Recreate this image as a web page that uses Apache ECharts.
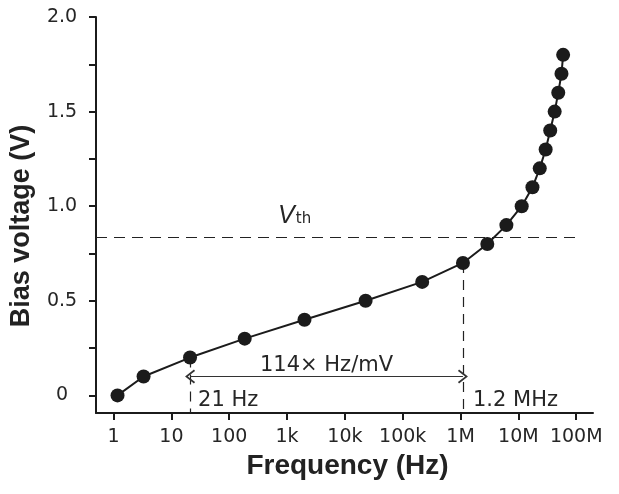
<!DOCTYPE html>
<html>
<head>
<meta charset="utf-8">
<script src="https://cdn.jsdelivr.net/npm/echarts@6/dist/echarts.min.js"></script>
<style>
html,body{margin:0;padding:0;background:#fff;}
#chart{width:619px;height:494px;}
</style>
</head>
<body>
<div id="chart"></div>
<script>
// ---- data ----
const freqHz = [1.17, 3.3, 21, 185, 2000, 22800, 217000, 1.1e6, 2.9e6, 6.2e6, 11.4e6, 17.5e6, 23.4e6, 29.6e6, 35.5e6, 42.4e6, 48.9e6, 55.6e6, 59.4e6];
const biasV = [0, 0.1, 0.2, 0.3, 0.4, 0.5, 0.6, 0.7, 0.8, 0.9, 1.0, 1.1, 1.2, 1.3, 1.4, 1.5, 1.6, 1.7, 1.8];

const xTickDecades = [0, 1, 2, 3, 4, 5, 6, 7, 8];
const xTickLabels = ['1', '10', '100', '1k', '10k', '100k', '1M', '10M', '100M'];
const yTickValues = [0, 0.25, 0.5, 0.75, 1.0, 1.25, 1.5, 1.75, 2.0];
const yLabelValues = [0, 0.5, 1.0, 1.5, 2.0];
const yLabelTexts = ['0', '0.5', '1.0', '1.5', '2.0'];

const vthValue = 0.835;          // threshold voltage (dashed line)
const vthLineEndHz = 1.1e8;      // dashed line ends here
const vthLabelHz = 700;          // where the V_th label sits
const lowFreqHz = 21;            // left marker
const lowFreqV = 0.2;
const highFreqHz = 1.1e6;        // right marker
const highFreqV = 0.7;
const rangeArrowV = 0.1;         // level of the double arrow
const lowLabel = '21 Hz';
const highLabel = '1.2 MHz';
const rangeLabel = '114\u00d7 Hz/mV';

const xMin = -0.304, xMax = 8.29;   // log10(Hz)
const yMin = -0.093, yMax = 2.0;

// ---- build ----
const lg = v => Math.log10(v);
const points = freqHz.map((f, i) => [lg(f), biasV[i]]);
const ink = '#1b1b1b';
const txt = '#262626';
const chevron = 'path://M0,0 L6,8.2 L4.8,9.2 L0,2.6 L-4.8,9.2 L-6,8.2 Z';

const chart = echarts.init(document.getElementById('chart'), null, {renderer: 'canvas'});
chart.setOption({
  animation: false,
  backgroundColor: '#ffffff',
  grid: {left: 96, right: 26, top: 17, bottom: 81, containLabel: false},
  xAxis: {
    type: 'value', min: xMin, max: xMax,
    name: 'Frequency (Hz)', nameLocation: 'middle', nameGap: 39,
    nameTextStyle: {fontFamily: 'Liberation Sans', fontWeight: 'bold', fontSize: 28, color: '#222', padding: [0, 0, 0, 6]},
    axisLine: {show: true, onZero: false, lineStyle: {color: ink, width: 2}},
    axisTick: {show: true, inside: false, length: 7, lineStyle: {color: ink, width: 2}, customValues: xTickDecades},
    axisLabel: {show: true, margin: 15, fontFamily: 'DejaVu Sans', fontSize: 19, color: txt,
      customValues: xTickDecades,
      formatter: v => xTickLabels[xTickDecades.indexOf(Math.round(v))]},
    splitLine: {show: false}
  },
  yAxis: {
    type: 'value', min: yMin, max: yMax,
    name: 'Bias voltage (V)', nameLocation: 'middle', nameGap: 61, nameRotate: 90,
    nameTextStyle: {fontFamily: 'Liberation Sans', fontWeight: 'bold', fontSize: 27, color: '#222', padding: [0, 22, 0, 0]},
    axisLine: {show: true, onZero: false, lineStyle: {color: ink, width: 2}},
    axisTick: {show: true, inside: false, length: 7, lineStyle: {color: ink, width: 2}, customValues: yTickValues},
    axisLabel: {show: true, margin: 34, align: 'center', fontFamily: 'DejaVu Sans', fontSize: 19, color: txt,
      customValues: yLabelValues,
      formatter: v => { const i = yLabelValues.findIndex(t => Math.abs(t - v) < 1e-9); return i >= 0 ? yLabelTexts[i] : ''; }},
    splitLine: {show: false}
  },
  series: [{
    type: 'line',
    data: points,
    symbol: 'circle', symbolSize: 14,
    itemStyle: {color: ink},
    lineStyle: {color: ink, width: 2},
    emphasis: {disabled: true},
    z: 5,
    markLine: {
      silent: true,
      animation: false,
      label: {show: false},
      emphasis: {disabled: true},
      data: [
        [{coord: [xMin, vthValue], symbol: 'none', lineStyle: {type: [11, 7], color: '#222', width: 1.2}},
         {coord: [lg(vthLineEndHz), vthValue], symbol: 'none'}],
        [{coord: [lg(lowFreqHz), lowFreqV], symbol: 'none', lineStyle: {type: [10, 7], color: '#222', width: 1.2}},
         {coord: [lg(lowFreqHz), yMin], symbol: 'none'}],
        [{coord: [lg(highFreqHz), highFreqV], symbol: 'none', lineStyle: {type: [10, 7], color: '#222', width: 1.2}},
         {coord: [lg(highFreqHz), yMin], symbol: 'none'}],
        [{coord: [lg(lowFreqHz), rangeArrowV], symbol: chevron, symbolSize: [14, 10], lineStyle: {type: 'solid', color: '#333', width: 1.2}},
         {coord: [lg(highFreqHz), rangeArrowV], symbol: chevron, symbolSize: [14, 10]}]
      ]
    }
  }]
});

// annotations positioned through the chart's own coordinate system
const px = (x, y) => chart.convertToPixel({gridIndex: 0}, [x, y]);
const pLow = px(lg(lowFreqHz), 0);
const pHigh = px(lg(highFreqHz), 0);
const pArrowL = px(lg(lowFreqHz), rangeArrowV);
const pArrowR = px(lg(highFreqHz), rangeArrowV);
const pVth = px(lg(vthLabelHz), vthValue);
chart.setOption({
  graphic: [
    {type: 'text', x: pLow[0] + 8, y: pLow[1] + 5, style: {text: lowLabel, fontFamily: 'DejaVu Sans', fontSize: 21, fill: txt, align: 'left', verticalAlign: 'middle'}},
    {type: 'text', x: pHigh[0] + 10, y: pHigh[1] + 5, style: {text: highLabel, fontFamily: 'DejaVu Sans', fontSize: 21, fill: txt, align: 'left', verticalAlign: 'middle'}},
    {type: 'text', x: (pArrowL[0] + pArrowR[0]) / 2, y: pArrowL[1] - 11, style: {text: rangeLabel, fontFamily: 'DejaVu Sans', fontSize: 21, fill: txt, align: 'center', verticalAlign: 'middle'}},
    {type: 'text', x: pVth[0], y: pVth[1] - 9, style: {
      text: '{v|V}{s|th}', align: 'left', verticalAlign: 'bottom',
      rich: {
        v: {fontFamily: 'Liberation Sans', fontStyle: 'italic', fontSize: 25, fill: txt, verticalAlign: 'bottom'},
        s: {fontFamily: 'DejaVu Sans', fontSize: 15, fill: txt, verticalAlign: 'bottom', padding: [0, 0, 2, 1]}
      }}}
  ]
});
</script>
</body>
</html>
